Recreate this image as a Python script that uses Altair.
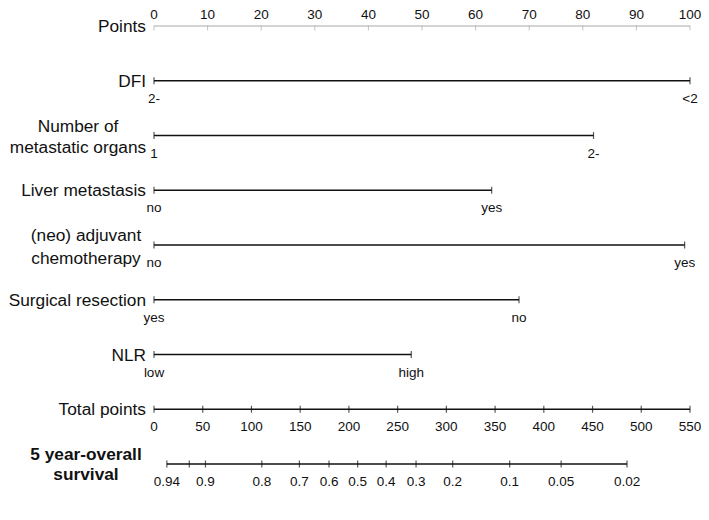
import altair as alt
import pandas as pd

FONT = "Liberation Sans"

# ---- data ----
points_ticks = [0, 10, 20, 30, 40, 50, 60, 70, 80, 90, 100]

var_names = ["DFI", "Number of metastatic organs", "Liver metastasis",
             "(neo) adjuvant chemotherapy", "Surgical resection", "NLR"]
var_rows = [1, 2, 3, 4, 5, 6]
level_low = ["2-", "1", "no", "no", "yes", "low"]
level_high = ["<2", "2-", "yes", "yes", "no", "high"]
level_high_points = [100.0, 82.0, 63.0, 99.0, 68.1, 48.0]

total_ticks = [0, 50, 100, 150, 200, 250, 300, 350, 400, 450, 500, 550]
total_max = 550

surv_labels = ["0.94", "", "0.9", "0.8", "0.7", "0.6", "0.5", "0.4", "0.3",
               "0.2", "0.1", "0.05", "0.02"]
surv_total = [13.2, 36.2, 52.8, 110.6, 149.2, 179.6, 209.0, 238.2, 268.9,
              306.5, 365.0, 417.8, 485.4]

single_labels = ["Points", "DFI", "Liver metastasis", "Surgical resection",
                 "NLR", "Total points"]
single_rows = [0, 1, 3, 5, 6, 7]

# ---- tables ----
pts_seg = pd.DataFrame({"row": [0], "x0": [0], "x1": [100]})
pts_tick = pd.DataFrame({"row": 0, "x": points_ticks,
                         "label": [str(v) for v in points_ticks]})

seg_rows, seg_x0, seg_x1 = [], [], []
tk_rows, tk_x, tk_lab = [], [], []
for r, lo, hi, hp in zip(var_rows, level_low, level_high, level_high_points):
    seg_rows.append(r); seg_x0.append(0.0); seg_x1.append(hp)
    tk_rows += [r, r]; tk_x += [0.0, hp]; tk_lab += [lo, hi]

# total points row (7)
seg_rows.append(7); seg_x0.append(0.0); seg_x1.append(100.0)
for t in total_ticks:
    tk_rows.append(7); tk_x.append(t / total_max * 100); tk_lab.append(str(t))

# survival row (8)
seg_rows.append(8); seg_x0.append(surv_total[0] / total_max * 100)
seg_x1.append(surv_total[-1] / total_max * 100)
for t, lab in zip(surv_total, surv_labels):
    tk_rows.append(8); tk_x.append(t / total_max * 100); tk_lab.append(lab)

segs = pd.DataFrame({"row": seg_rows, "x0": seg_x0, "x1": seg_x1})
ticks = pd.DataFrame({"row": tk_rows, "x": tk_x, "label": tk_lab})
singles = pd.DataFrame({"row": single_rows, "label": single_labels})

xs = alt.Scale(domain=[0, 100], nice=False, zero=False)
ys = alt.Scale(domain=[0, 8], reverse=True, nice=False, zero=False)
X = lambda f: alt.X(f, type="quantitative", scale=xs, axis=None)
Y = alt.Y("row:Q", scale=ys, axis=None)

gray = "#a9a9a9"
ink = "#111111"
LABEL_SIZE = 17.3
TICK_SIZE = 13.5

pts_line = alt.Chart(pts_seg).mark_rule(color=gray, strokeWidth=1).encode(
    x=X("x0"), x2="x1", y=Y)
pts_ticks = alt.Chart(pts_tick).mark_tick(
    orient="vertical", color=gray, size=5, thickness=1, yOffset=2).encode(
    x=X("x"), y=Y)
pts_text = alt.Chart(pts_tick).mark_text(
    font=FONT, fontSize=TICK_SIZE, dy=-7, baseline="alphabetic", align="center",
    color=ink).encode(x=X("x"), y=Y, text="label:N")

lines = alt.Chart(segs).mark_rule(color=ink, strokeWidth=1.5).encode(
    x=X("x0"), x2="x1", y=Y)
tk = alt.Chart(ticks).mark_tick(
    orient="vertical", color=ink, size=7, thickness=1.2).encode(
    x=X("x"), y=Y)
tk_text = alt.Chart(ticks).mark_text(
    font=FONT, fontSize=TICK_SIZE, dy=22, baseline="alphabetic", align="center",
    color=ink).encode(x=X("x"), y=Y, text="label:N")

row_text = alt.Chart(singles).mark_text(
    font=FONT, fontSize=LABEL_SIZE, dy=6, baseline="alphabetic", align="right",
    color=ink).encode(x=alt.value(-8), y=Y, text="label:N")

def multi(label, row, xpos, dy, lh, bold=False):
    d = pd.DataFrame({"row": [row], "label": [label]})
    return alt.Chart(d).mark_text(
        font=FONT, fontSize=LABEL_SIZE, dy=dy, baseline="alphabetic",
        align="center", lineBreak="\n", lineHeight=lh, color=ink,
        fontWeight="bold" if bold else "normal").encode(
        x=alt.value(xpos), y=Y, text="label:N")

m1 = multi("Number of\nmetastatic organs", 2, -76, -4, 21)
m2 = multi("(neo) adjuvant\nchemotherapy", 4, -68, -4, 23)
m3 = multi("5 year-overall\nsurvival", 8, -68, -4, 20, bold=True)

chart = alt.layer(
    pts_line, pts_ticks, pts_text, lines, tk, tk_text, row_text, m1, m2, m3
).properties(
    width=536, height=438,
    padding={"left": 146, "top": 18, "right": 11, "bottom": 40},
    autosize="none", background="white"
).configure_view(stroke=None)

chart.save("out.html", embed_options={"renderer": "svg", "actions": False})
